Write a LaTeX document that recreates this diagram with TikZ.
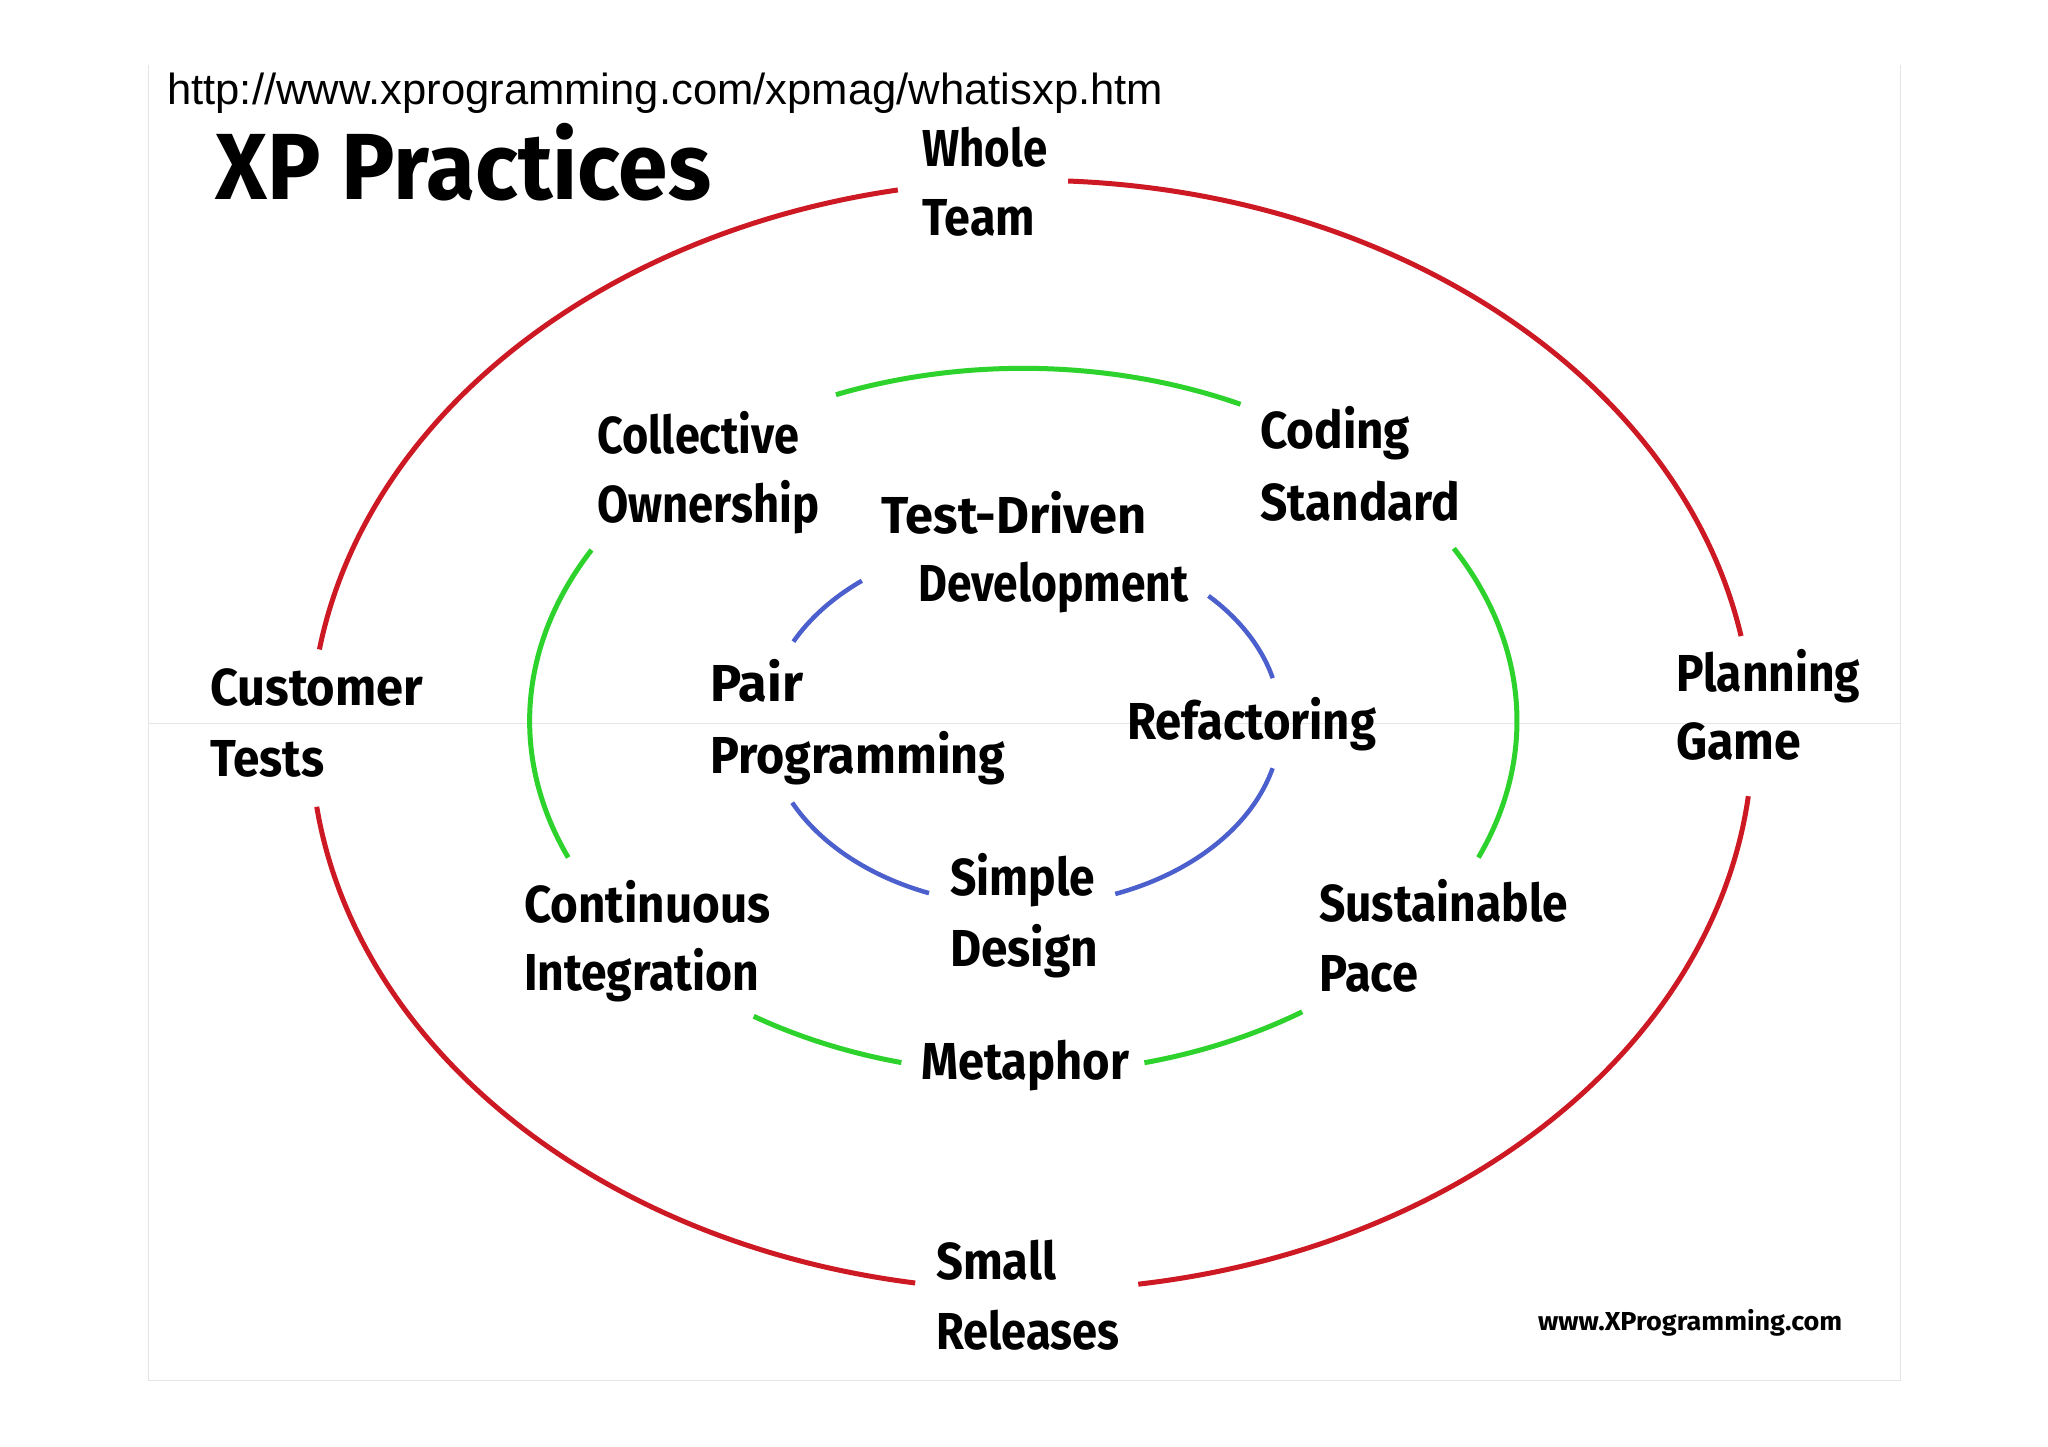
\documentclass[tikz,border=0pt]{standalone}
\usepackage{fontspec}
\usepackage{graphicx}
\setmainfont{Liberation Sans}
\newfontfamily\handfont{Fira Sans}
\definecolor{xpred}{RGB}{205,25,35}
\definecolor{xpgreen}{RGB}{45,210,45}
\definecolor{xpblue}{RGB}{75,95,205}
\newcommand{\xlab}[2]{\resizebox{#1pt}{\height}{#2}}
\begin{document}
\begin{tikzpicture}[x=1pt,y=-1pt,
  lab/.style={anchor=base west, inner sep=0pt, font=\handfont\bfseries\fontsize{52}{60}\selectfont},
  redarc/.style={draw=xpred, line width=5pt},
  greenarc/.style={draw=xpgreen, line width=5pt},
  bluearc/.style={draw=xpblue, line width=4.5pt},
  frameline/.style={draw=black!10, line width=1pt}]
\useasboundingbox (0,0) rectangle (2048,1447);
\fill[white] (0,0) rectangle (2048,1447);
% faint frame
\draw[frameline] (148,65) -- (148,1380) -- (1900,1380) -- (1900,65);
\draw[frameline] (148,723) -- (1900,723);
% URL
\node[anchor=base west, inner sep=0pt, font=\fontsize{43.5}{50}\selectfont] (url) at (167,105) {\xlab{996}{http://www.xprogramming.com/xpmag/whatisxp.htm}};
% title
\node[anchor=base west, inner sep=0pt, font=\handfont\bfseries\fontsize{94}{100}\selectfont] (title) at (215,200) {\xlab{496}{XP Practices}};
% red outer ellipse
\draw[redarc] (1031.7,735.3) ++(-87.1:721 and 555) arc[start angle=-87.1, end angle=-10.3, x radius=721, y radius=555];
\draw[redarc] (1031.7,735.3) ++(6.3:721 and 555) arc[start angle=6.3, end angle=81.5, x radius=721, y radius=555];
\draw[redarc] (1031.7,735.3) ++(99.3:721 and 555) arc[start angle=99.3, end angle=172.6, x radius=721, y radius=555];
\draw[redarc] (1031.7,735.3) ++(188.9:721 and 555) arc[start angle=188.9, end angle=259.3, x radius=721, y radius=555];
% green middle ellipse
\draw[greenarc] (1023.3,720.9) ++(-112.3:493.7 and 352.6) arc[start angle=-112.3, end angle=-63.9, x radius=493.7, y radius=352.6];
\draw[greenarc] (1023.3,720.9) ++(-29.3:493.7 and 352.6) arc[start angle=-29.3, end angle=22.8, x radius=493.7, y radius=352.6];
\draw[greenarc] (1023.3,720.9) ++(55.6:493.7 and 352.6) arc[start angle=55.6, end angle=75.8, x radius=493.7, y radius=352.6];
\draw[greenarc] (1023.3,720.9) ++(104.3:493.7 and 352.6) arc[start angle=104.3, end angle=123.1, x radius=493.7, y radius=352.6];
\draw[greenarc] (1023.3,720.9) ++(157.2:493.7 and 352.6) arc[start angle=157.2, end angle=209, x radius=493.7, y radius=352.6];
% blue inner ellipse
\draw[bluearc] (1023.6,723) ++(206.4:257 and 183) arc[start angle=206.4, end angle=231, x radius=257, y radius=183];
\draw[bluearc] (1023.6,723) ++(-44:257 and 183) arc[start angle=-44, end angle=-14.2, x radius=257, y radius=183];
\draw[bluearc] (1023.6,723) ++(14.3:257 and 183) arc[start angle=14.3, end angle=69.1, x radius=257, y radius=183];
\draw[bluearc] (1023.6,723) ++(111.6:257 and 183) arc[start angle=111.6, end angle=154.2, x radius=257, y radius=183];
% labels
\node[lab] (whole1) at (922,167) {\xlab{125}{Whole}};
\node[lab] (whole2) at (922,236) {\xlab{113}{Team}};
\node[lab] (coll1) at (597,453) {\xlab{202}{Collective}};
\node[lab] (coll2) at (597,522) {\xlab{222}{Ownership}};
\node[lab] (cod1) at (1260,448) {\xlab{150}{Coding}};
\node[lab] (cod2) at (1260,520) {\xlab{200}{Standard}};
\node[lab] (tdd1) at (881,533) {\xlab{265}{Test-Driven}};
\node[lab] (tdd2) at (918,601) {\xlab{270}{Development}};
\node[lab] (cust1) at (210,705) {\xlab{213}{Customer}};
\node[lab] (cust2) at (210,776) {\xlab{114}{Tests}};
\node[lab] (pair1) at (710,701) {\xlab{93}{Pair}};
\node[lab] (pair2) at (710,773) {\xlab{295}{Programming}};
\node[lab] (refac) at (1127,739) {\xlab{249}{Refactoring}};
\node[lab] (plan1) at (1676,691) {\xlab{184}{Planning}};
\node[lab] (plan2) at (1676,759) {\xlab{125}{Game}};
\node[lab] (cont1) at (524,922) {\xlab{246}{Continuous}};
\node[lab] (cont2) at (524,990) {\xlab{235}{Integration}};
\node[lab] (simp1) at (950,895) {\xlab{145}{Simple}};
\node[lab] (simp2) at (950,966) {\xlab{148}{Design}};
\node[lab] (sust1) at (1319,921) {\xlab{249}{Sustainable}};
\node[lab] (sust2) at (1319,991) {\xlab{99}{Pace}};
\node[lab] (meta) at (921,1079) {\xlab{208}{Metaphor}};
\node[lab] (small1) at (936,1279) {\xlab{120}{Small}};
\node[lab] (small2) at (936,1349) {\xlab{183}{Releases}};
\node[anchor=base west, inner sep=0pt, font=\handfont\bfseries\fontsize{26}{30}\selectfont] (www) at (1538,1330) {\xlab{304}{www.XProgramming.com}};
\end{tikzpicture}
\end{document}
